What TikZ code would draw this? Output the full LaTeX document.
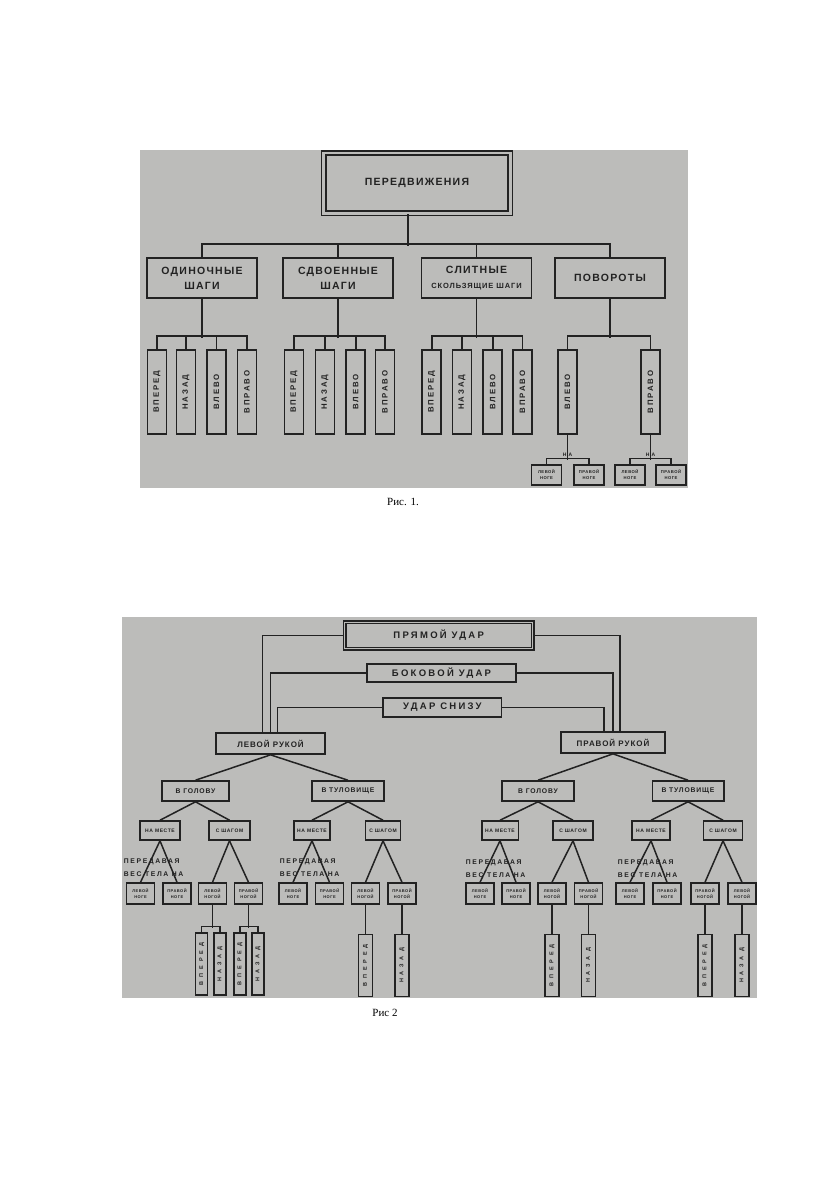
\documentclass[tikz,border=0pt]{standalone}
\usepackage{fontspec}
\usepackage{graphicx}
\setmainfont{Liberation Serif}
\newfontfamily\capfont{Liberation Sans}[LetterSpace=12]
\newfontfamily\spfont{Liberation Sans}[LetterSpace=24]
\newfontfamily\widefont{Liberation Sans}[LetterSpace=70]
\newcommand\capsz[2]{\capfont\bfseries\fontsize{#1}{#2}\selectfont}
\newcommand\spsz[2]{\spfont\bfseries\fontsize{#1}{#2}\selectfont}
\newcommand\widesz[1]{\widefont\bfseries\fontsize{#1}{#1}\selectfont}
\usetikzlibrary{positioning}
\definecolor{sheet}{RGB}{188,188,186}
\definecolor{ink}{RGB}{34,34,34}

\begin{document}
\begin{tikzpicture}[
    x=1pt, y=-1pt,
    color=ink,
    line width=1.9pt,
    box/.style={
        rectangle,
        draw=ink,
        line width=1.9pt,
        inner sep=0pt,
        align=center,
        text=ink
    },
    head/.style={box, double=sheet, double distance=2.6pt, line width=1.6pt, font=\capsz{10.5}{14}},
    kind/.style={box, minimum width=110pt, minimum height=40pt, font=\capsz{10.5}{15}},
    leaf/.style={box, minimum width=19pt, minimum height=84pt, font=\spsz{7.8}{8}},
    foot/.style={box, line width=1.4pt, minimum width=30pt, minimum height=20pt, font=\capsz{4.2}{6}},
    note/.style={font=\capsz{5}{6}},
    strike/.style={box, line width=1.7pt, minimum height=19pt, font=\spsz{9.5}{10}},
    hand/.style={box, line width=1.7pt, minimum height=21pt, font=\capsz{8}{9}},
    target/.style={box, line width=1.6pt, minimum height=20pt, font=\capsz{6.8}{8}},
    mode/.style={box, line width=1.6pt, minimum height=19pt, font=\capsz{5}{6}},
    leg/.style={box, line width=1.5pt, minimum width=28pt, minimum height=21pt, font=\capsz{4}{5.5}},
    dir/.style={box, line width=1.5pt, minimum width=14pt, minimum height=62pt, font=\widesz{5.5}},
    wire/.style={line width=1.5pt},
    carry/.style={anchor=west, align=left, inner sep=0pt, font=\spsz{6.8}{13}},
    caption/.style={text=black, font=\fontsize{11}{13}\selectfont}
]
\useasboundingbox (0,0) rectangle (840,1191);

% Sheets of the two scans
\fill[sheet] (140,150) rectangle (688,488);
\fill[sheet] (122,617) rectangle (757,998);

% ---------------- Fig. 1 ----------------
\node[head, minimum width=186.7pt, minimum height=60.4pt] (move) at (417,183) {ПЕРЕДВИЖЕНИЯ};

\node[kind] (odin)  at (202,278)   {ОДИНОЧНЫЕ\\ШАГИ};
\node[kind] (sdv)   at (338,278)   {СДВОЕННЫЕ\\ШАГИ};
\node[kind] (slit)  at (476.5,278) {СЛИТНЫЕ\\{\capsz{7.5}{9}СКОЛЬЗЯЩИЕ ШАГИ}};
\node[kind] (povor) at (610,278)   {ПОВОРОТЫ};

\draw ([xshift=-9pt]move.south) -- ++(0,31.8);
\draw (odin.north) -- ++(0,-13) -| (povor.north);
\draw (sdv.north) -- ++(0,-13);
\draw (slit.north) -- ++(0,-13);

% Leaves
\foreach \x/\t [count=\i] in {157/ВПЕРЕД,186/НАЗАД,216.5/ВЛЕВО,247/ВПРАВО}
    \node[leaf] (o\i) at (\x,392) {\rotatebox{90}{\t}};
\foreach \x/\t [count=\i] in {294/ВПЕРЕД,325/НАЗАД,355.6/ВЛЕВО,385/ВПРАВО}
    \node[leaf] (s\i) at (\x,392) {\rotatebox{90}{\t}};
\foreach \x/\t [count=\i] in {431.6/ВПЕРЕД,462/НАЗАД,492.6/ВЛЕВО,522.5/ВПРАВО}
    \node[leaf] (c\i) at (\x,392) {\rotatebox{90}{\t}};
\node[leaf] (p1) at (567.5,392) {\rotatebox{90}{ВЛЕВО}};
\node[leaf] (p2) at (650.5,392) {\rotatebox{90}{ВПРАВО}};

\foreach \g/\n in {o/odin,s/sdv,c/slit} {
    \draw (\g1.north) -- ++(0,-13) -| (\g4.north);
    \draw (\g2.north) -- ++(0,-13);
    \draw (\g3.north) -- ++(0,-13);
    \draw (\n.south) -- ++(0,39);
}
\draw (p1.north) -- ++(0,-13) -| (p2.north);
\draw (povor.south) -- ++(0,39);

% Feet under the turns
\node[foot] (p1l) at (546.5,475) {ЛЕВОЙ\\НОГЕ};
\node[foot] (p1r) at (589,475)   {ПРАВОЙ\\НОГЕ};
\node[foot] (p2l) at (630,475)   {ЛЕВОЙ\\НОГЕ};
\node[foot] (p2r) at (671,475)   {ПРАВОЙ\\НОГЕ};
\foreach \i in {1,2} {
    \draw[line width=1.4pt] (p\i l.north) -- ++(0,-6) -| (p\i r.north);
    \draw[line width=1.4pt] (p\i.south) -- ++(0,25);
    \node[note] (on\i) at ([yshift=-20pt]p\i.south) {Н\hspace{2pt}А};
}

\node[caption] (cap1) at (403,502) {Рис. 1.};

% ---------------- Fig. 2 ----------------
\node[box, double=sheet, double distance=1.4pt, line width=1.5pt, font=\spsz{9.5}{10},
      minimum width=188pt, minimum height=26.5pt] (pryam) at (438.7,635.5) {ПРЯМОЙ УДАР};
\node[strike, minimum width=149pt, minimum height=18pt] (bok) at (441.5,673) {БОКОВОЙ УДАР};
\node[strike, minimum width=118.6pt] (snizu) at (442.3,707.5) {УДАР СНИЗУ};
\node[hand, minimum width=109pt] (lev)  at (270.5,743.5) {ЛЕВОЙ РУКОЙ};
\node[hand, minimum width=104pt] (prav) at (613,742.5)   {ПРАВОЙ РУКОЙ};

\draw[wire] (pryam.west) -| ([xshift=-8pt]lev.north);
\draw[wire] (bok.west)   -| (lev.north);
\draw[wire] (snizu.west) -| ([xshift=7pt]lev.north);
\draw[wire] (pryam.east) -| ([xshift=7pt]prav.north);
\draw[wire] (bok.east)   -| (prav.north);
\draw[wire] (snizu.east) -| ([xshift=-9pt]prav.north);

\node[target, minimum width=67pt]   (lgol) at (195.5,791) {В ГОЛОВУ};
\node[target, minimum width=72pt]   (ltul) at (348,791)   {В ТУЛОВИЩЕ};
\node[target, minimum width=71.6pt] (rgol) at (538,791)   {В ГОЛОВУ};
\node[target, minimum width=71.4pt] (rtul) at (688,791)   {В ТУЛОВИЩЕ};
\draw[wire] (lev.south) -- (lgol.north);
\draw[wire] (lev.south) -- (ltul.north);
\draw[wire] (prav.south) -- (rgol.north);
\draw[wire] (prav.south) -- (rtul.north);

% Standing / stepping
\foreach \g/\a/\wa/\b/\wb in {1/160/40/229.5/41, 2/312/36/383/35, 3/500/36.6/573/39.7, 4/651/38.3/723/38.7} {
    \node[mode, minimum width=\wa pt] (na\g) at (\a,830.5) {НА МЕСТЕ};
    \node[mode, minimum width=\wb pt] (sh\g) at (\b,830.5) {С ШАГОМ};
}

% Legs (group 4 has right leg first)
\foreach \g/\a/\b/\c/\d in {1/140.5/177/212.5/248.5, 2/293/329.5/365.5/402, 3/480/516/552/588.5, 4/630/667/742/705} {
    \node[leg] (ln\g) at (\a,893.5) {ЛЕВОЙ\\НОГЕ};
    \node[leg] (pn\g) at (\b,893.5) {ПРАВОЙ\\НОГЕ};
    \node[leg] (lg\g) at (\c,893.5) {ЛЕВОЙ\\НОГОЙ};
    \node[leg] (pg\g) at (\d,893.5) {ПРАВОЙ\\НОГОЙ};
}

\foreach \p/\g in {lgol/1,ltul/2,rgol/3,rtul/4} {
    \draw[wire] (\p.south) -- (na\g.north);
    \draw[wire] (\p.south) -- (sh\g.north);
    \draw[wire] (na\g.south) -- (ln\g.north);
    \draw[wire] (na\g.south) -- (pn\g.north);
    \draw[wire] (sh\g.south) -- (lg\g.north);
    \draw[wire] (sh\g.south) -- (pg\g.north);
}

% Weight transfer notes
\node[carry] (t1) at (123,867.5) {ПЕРЕДАВАЯ\\ВЕС ТЕЛА НА};
\node[carry] (t2) at (279,867.5) {ПЕРЕДАВАЯ\\ВЕС ТЕЛА НА};
\node[carry] (t3) at (465,868.5) {ПЕРЕДАВАЯ\\ВЕС ТЕЛА НА};
\node[carry] (t4) at (617,868.5) {ПЕРЕДАВАЯ\\ВЕС ТЕЛА НА};

% Directions
\node[dir, minimum width=12pt] (v1a) at (201.7,964) {\rotatebox{90}{ВПЕРЕД}};
\node[dir, minimum width=12pt] (z1a) at (220,964)   {\rotatebox{90}{НАЗАД}};
\node[dir, minimum width=12pt] (v1b) at (240,964)   {\rotatebox{90}{ВПЕРЕД}};
\node[dir, minimum width=12pt] (z1b) at (258,964)   {\rotatebox{90}{НАЗАД}};
\draw[wire] (v1a.north) -- ++(0,-6) -| (z1a.north);
\draw[wire] (v1b.north) -- ++(0,-6) -| (z1b.north);
\draw[wire] (lg1.south) -- ++(0,23);
\draw[wire] (pg1.south) -- ++(0,23);

\node[dir, below=29pt of lg2] (v2) {\rotatebox{90}{ВПЕРЕД}};
\node[dir, below=29pt of pg2] (z2) {\rotatebox{90}{НАЗАД}};
\node[dir, below=29pt of lg3] (v3) {\rotatebox{90}{ВПЕРЕД}};
\node[dir, below=29pt of pg3] (z3) {\rotatebox{90}{НАЗАД}};
\node[dir, below=29pt of pg4] (v4) {\rotatebox{90}{ВПЕРЕД}};
\node[dir, below=29pt of lg4] (z4) {\rotatebox{90}{НАЗАД}};
\draw[wire] (lg2) -- (v2);
\draw[wire] (pg2) -- (z2);
\draw[wire] (lg3) -- (v3);
\draw[wire] (pg3) -- (z3);
\draw[wire] (pg4) -- (v4);
\draw[wire] (lg4) -- (z4);

\node[caption] (cap2) at (385,1013) {Рис 2};

\end{tikzpicture}
\end{document}
